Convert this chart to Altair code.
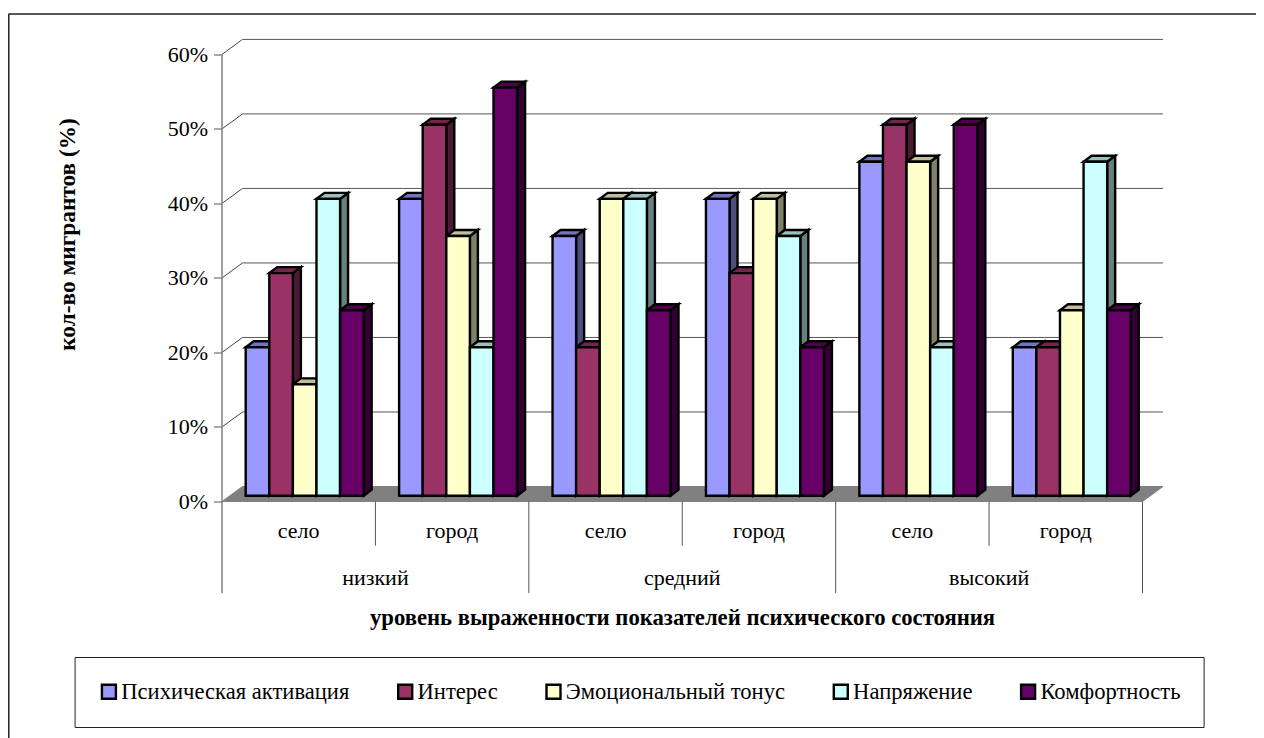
import altair as alt
import pandas as pd

# ---- values ----
series = ["Психическая активация", "Интерес", "Эмоциональный тонус", "Напряжение", "Комфортность"]
places = ["село", "город", "село", "город", "село", "город"]
levels = ["низкий", "средний", "высокий"]
activation = [20, 40, 35, 40, 45, 20]
interest = [30, 50, 20, 30, 50, 20]
tone = [15, 35, 40, 40, 45, 25]
tension = [40, 20, 40, 35, 20, 45]
comfort = [25, 55, 25, 20, 50, 25]
values = [activation, interest, tone, tension, comfort]
front_colors = ["#9999FF", "#993366", "#FFFFCC", "#CCFFFF", "#660066"]
top_colors = ["#7373BF", "#73264D", "#BFBF99", "#99BFBF", "#4D004D"]
side_colors = ["#4D4D80", "#4D1A33", "#808066", "#668080", "#330033"]
ticks = [0, 10, 20, 30, 40, 50, 60]

FONT = "Liberation Serif"
PX_X = 153.45      # pixels per category
PX_Y = 462 / 62    # pixels per percent
LEFT, TOP = 222, 39.5

# projection of the fake 3-D box, in data units
wall_dx, wall_dy = 20.5 / PX_X, 15 / PX_Y
bar_dx, bar_dy = 8 / PX_X, 6 / PX_Y
bar_start, bar_w = 23.7 / PX_X, 23.6 / PX_X
bar_base = 5.8 / PX_Y
bar_k = 7.42 / PX_Y

fronts, tops, sides = [], [], []
for s, name in enumerate(series):
    for g, v in enumerate(values[s]):
        xl = g + bar_start + s * bar_w
        xr = xl + bar_w
        yt = bar_base + v * bar_k
        key = f"{g}-{s}"
        fronts.append({"x": xl, "x2": xr, "y": bar_base, "y2": yt, "series": name})
        tops += [
            {"k": key, "c": top_colors[s], "x": xl, "y": yt, "y2": yt},
            {"k": key, "c": top_colors[s], "x": xl + bar_dx, "y": yt, "y2": yt + bar_dy},
            {"k": key, "c": top_colors[s], "x": xr, "y": yt, "y2": yt + bar_dy},
            {"k": key, "c": top_colors[s], "x": xr + bar_dx, "y": yt + bar_dy, "y2": yt + bar_dy},
        ]
        sides += [
            {"k": key, "c": side_colors[s], "x": xr, "y": bar_base, "y2": yt},
            {"k": key, "c": side_colors[s], "x": xr + bar_dx, "y": bar_base + bar_dy, "y2": yt + bar_dy},
        ]

floor = pd.DataFrame([
    {"x": 0, "y": 0, "y2": 0},
    {"x": wall_dx, "y": 0, "y2": wall_dy},
    {"x": 6, "y": 0, "y2": wall_dy},
    {"x": 6 + wall_dx, "y": wall_dy, "y2": wall_dy},
])

xscale = alt.Scale(domain=[0, 6 + wall_dx], nice=False, zero=False)
yscale = alt.Scale(domain=[0, 62], nice=False, zero=False)


def X(f="x"):
    return alt.X(f"{f}:Q", scale=xscale, axis=None)


def Y(f="y"):
    return alt.Y(f"{f}:Q", scale=yscale, axis=None, stack=None)


# the real axes carry the tick labels and both titles
axes = alt.Chart(pd.DataFrame({"x": [0], "y": [0]})).mark_point(opacity=0).encode(
    x=alt.X("x:Q", scale=xscale, axis=alt.Axis(
        title="уровень выраженности показателей психического состояния",
        labels=False, ticks=False, domain=False, grid=False,
        titleFont=FONT, titleFontSize=22.7, titleFontWeight="bold", titleColor="black", titleLimit=900,
        titleX=682 - LEFT, titleY=617 - 501.5, titleBaseline="middle", titleAlign="center")),
    y=alt.Y("y:Q", scale=yscale, axis=alt.Axis(
        title="кол-во мигрантов (%)", values=ticks, labelExpr="datum.value + '%'",
        domain=False, grid=False, tickSize=8.5, tickColor="#555555", tickWidth=1,
        labelFont=FONT, labelFontSize=22, labelColor="black", labelPadding=6,
        titleFont=FONT, titleFontSize=23.3, titleFontWeight="bold", titleColor="black", titleLimit=500,
        titleX=67 - LEFT, titleY=234 - TOP, titleBaseline="middle", titleAlign="center")),
)

slant_rows = []
for t in ticks[1:]:
    slant_rows += [{"t": t, "x": 0, "y": t}, {"t": t, "x": wall_dx, "y": t + wall_dy}]
grid_slant = alt.Chart(pd.DataFrame(slant_rows)).mark_line(color="#444444", strokeWidth=1).encode(
    x=X(), y=Y(), detail="t:Q",
)
back_df = pd.DataFrame({"x": [wall_dx] * 6, "y": [t + wall_dy for t in ticks[1:]]})
grid_back = alt.Chart(back_df).mark_rule(color="#555555", strokeWidth=1).encode(
    x=X(), x2=alt.value(941), y=Y(),
)

floor_layer = alt.Chart(floor).mark_area(color="#808080", stroke="#808080", strokeWidth=1).encode(
    x=X(), y=Y(), y2=alt.Y2("y2:Q"),
)

y_line = alt.Chart(pd.DataFrame({"x": [0]})).mark_rule(color="#808080", strokeWidth=1.5).encode(
    x=X(), y=alt.value(54.5 - TOP), y2=alt.value(593 - TOP),
)

dividers = alt.Chart(pd.DataFrame({"x": [2, 4, 6]})).mark_rule(color="#555555", strokeWidth=1).encode(
    x=X(), y=alt.value(501.5 - TOP), y2=alt.value(593 - TOP),
)
dividers_short = alt.Chart(pd.DataFrame({"x": [1, 3, 5]})).mark_rule(color="#555555", strokeWidth=1).encode(
    x=X(), y=alt.value(501.5 - TOP), y2=alt.value(545.7 - TOP),
)

side_layer = alt.Chart(pd.DataFrame(sides)).mark_area(stroke="black", strokeWidth=2.4, strokeJoin="miter").encode(
    x=X(), y=Y(), y2=alt.Y2("y2:Q"), fill=alt.Fill("c:N", scale=None), detail="k:N",
)
top_layer = alt.Chart(pd.DataFrame(tops)).mark_area(stroke="black", strokeWidth=2.4, strokeJoin="miter").encode(
    x=X(), y=Y(), y2=alt.Y2("y2:Q"), fill=alt.Fill("c:N", scale=None), detail="k:N",
)
front_layer = alt.Chart(pd.DataFrame(fronts)).mark_rect(stroke="black", strokeWidth=2.4).encode(
    x=X(), x2=alt.X2("x2:Q"), y=Y(), y2=alt.Y2("y2:Q"),
    color=alt.Color("series:N", scale=alt.Scale(domain=series, range=front_colors), legend=alt.Legend(
        title=None, orient="none", legendX=74.6 - LEFT, legendY=657 - TOP, direction="horizontal",
        columns=5, columnPadding=43.3, padding=23, fillColor="white", strokeColor="#222222",
        symbolType="square", symbolSize=196, symbolStrokeColor="black", symbolStrokeWidth=2.4,
        labelFont=FONT, labelFontSize=22.6, labelColor="black", labelOffset=1, labelLimit=400,
    )),
)

place_df = pd.DataFrame({"x": [i + 0.5 for i in range(6)], "t": places})
place_text = alt.Chart(place_df).mark_text(font=FONT, fontSize=22, color="black", baseline="middle").encode(
    x=X(), y=alt.value(530.5 - TOP), text="t:N",
)
level_df = pd.DataFrame({"x": [1, 3, 5], "t": levels})
level_text = alt.Chart(level_df).mark_text(font=FONT, fontSize=22, color="black", baseline="middle").encode(
    x=X(), y=alt.value(578 - TOP), text="t:N",
)

frame_top = alt.Chart(pd.DataFrame({"a": [0]})).mark_rule(color="#222222", strokeWidth=1.5).encode(
    x=alt.value(-LEFT + 8.5), x2=alt.value(1264 - LEFT), y=alt.value(14 - TOP),
)
frame_left = alt.Chart(pd.DataFrame({"a": [0]})).mark_rule(color="#222222", strokeWidth=1.5).encode(
    x=alt.value(-LEFT + 8.8), y=alt.value(14 - TOP), y2=alt.value(738 - TOP),
)

chart = alt.layer(
    frame_top, frame_left, axes, grid_back, grid_slant, floor_layer, y_line,
    dividers, dividers_short, side_layer, top_layer, front_layer, place_text, level_text,
).resolve_axis(x="independent", y="independent").properties(
    width=941, height=462,
    autosize=alt.AutoSizeParams(type="none"),
    padding={"left": LEFT - 8, "top": TOP - 8, "right": 1264 - 8 - LEFT - 941, "bottom": 738 - TOP - 462},
    background="white",
).configure_view(stroke=None)

chart.save("out.html", embed_options={"renderer": "svg", "actions": False})
